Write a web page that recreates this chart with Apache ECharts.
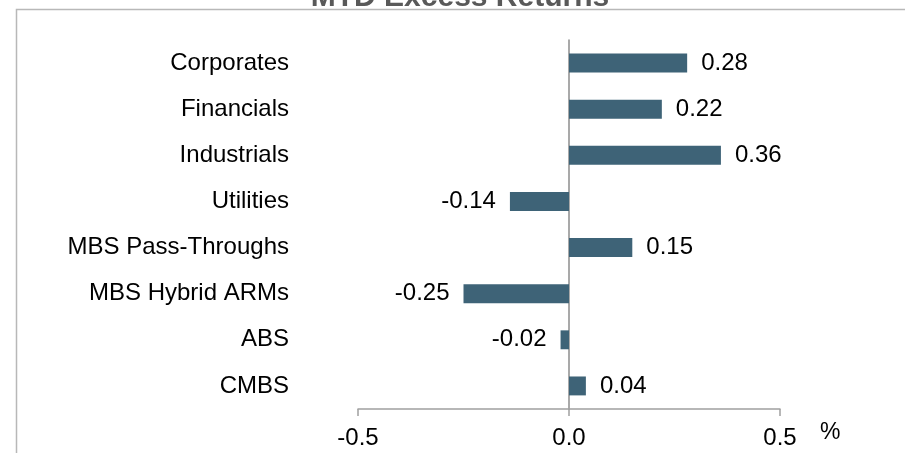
<!DOCTYPE html>
<html>
<head>
<meta charset="utf-8">
<script src="https://cdn.jsdelivr.net/npm/echarts@6.0.0/dist/echarts.min.js"></script>
<style>
  html, body { margin: 0; padding: 0; background: #fff; }
  #chart { width: 905px; height: 453px; }
</style>
</head>
<body>
<div id="chart"></div>
<script>
  var sectors = ['Corporates', 'Financials', 'Industrials', 'Utilities', 'MBS Pass-Throughs', 'MBS Hybrid ARMs', 'ABS', 'CMBS'];
  var excessReturns = [0.28, 0.22, 0.36, -0.14, 0.15, -0.25, -0.02, 0.04];

  var FONT = 'Liberation Sans, Arial, sans-serif';

  var chart = echarts.init(document.getElementById('chart'));
  chart.setOption({
    animation: false,
    title: {
      text: 'MTD Excess Returns',
      left: 455,
      textAlign: 'center',
      top: -22,
      textStyle: { fontFamily: FONT, fontSize: 30, fontWeight: 'bold', color: '#595959' }
    },
    graphic: [{
      type: 'rect',
      shape: { x: 16.5, y: 9.5, width: 1000, height: 600 },
      style: { fill: 'none', stroke: '#b8b8b8', lineWidth: 1.5 },
      z: -1
    }],
    grid: { left: 358, right: 125, top: 40, bottom: 44, outerBoundsMode: 'none', containLabel: false },
    xAxis: {
      type: 'value',
      min: -0.5,
      max: 0.5,
      interval: 0.5,
      name: '%',
      nameLocation: 'end',
      nameGap: 40,
      nameTextStyle: {
        fontFamily: FONT, fontSize: 23, color: '#000',
        align: 'left', verticalAlign: 'top', padding: [12, 0, 0, 0]
      },
      axisLine: { show: true, onZero: false, lineStyle: { color: '#a0a0a0', width: 1.5 } },
      axisTick: { show: true, length: 7, lineStyle: { color: '#a0a0a0', width: 1.5 } },
      axisLabel: {
        fontFamily: FONT, fontSize: 24, color: '#000', margin: 17,
        formatter: function (v) { return v.toFixed(1); }
      },
      splitLine: { show: false }
    },
    yAxis: {
      type: 'category',
      data: sectors,
      inverse: true,
      axisLine: { show: true, onZero: true, lineStyle: { color: '#8c8c8c', width: 1.5 } },
      axisTick: { show: false },
      axisLabel: { fontFamily: FONT, fontSize: 24, color: '#000', margin: 69 }
    },
    series: [{
      type: 'bar',
      data: excessReturns.map(function (v) {
        return {
          value: v,
          label: { position: v < 0 ? 'left' : 'right' }
        };
      }),
      barWidth: '41%',
      itemStyle: { color: '#3e6377' },
      label: {
        show: true,
        distance: 14,
        fontFamily: FONT,
        fontSize: 24,
        color: '#000',
        formatter: function (p) { return p.value.toFixed(2); }
      }
    }]
  });
</script>
</body>
</html>
